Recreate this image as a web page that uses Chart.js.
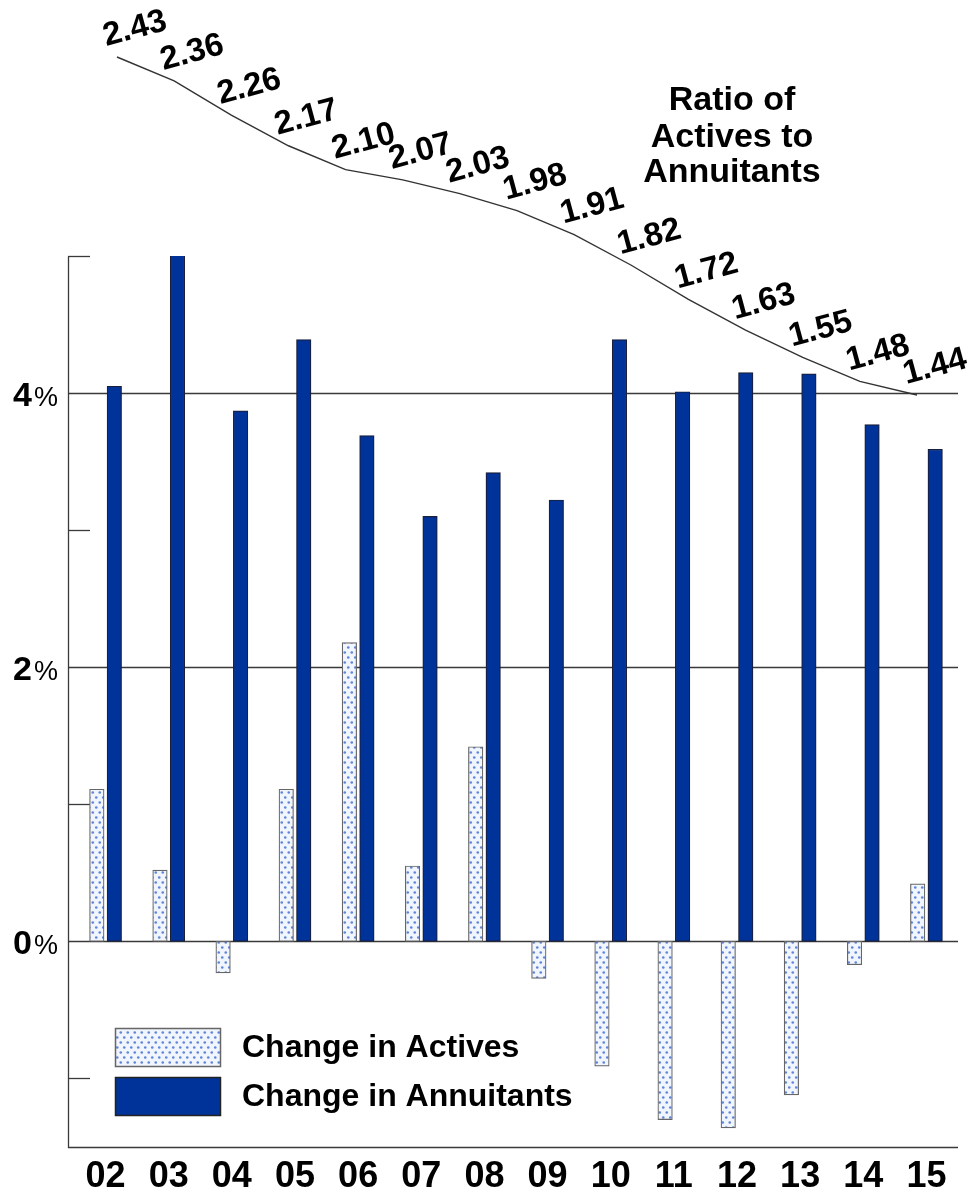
<!DOCTYPE html>
<html>
<head>
<meta charset="utf-8">
<title>Actives and Annuitants</title>
<script src="https://cdn.jsdelivr.net/npm/chart.js@4/dist/chart.umd.min.js"></script>
<style>
  html, body { margin: 0; padding: 0; background: #ffffff; }
  #wrap { width: 967px; height: 1192px; position: relative; }
</style>
</head>
<body>
<div id="wrap"><canvas id="chart" width="967" height="1192"></canvas></div>
<script>
// Fiscal years shown on the category axis
const years = ['02', '03', '04', '05', '06', '07', '08', '09', '10', '11', '12', '13', '14', '15'];

// Annual percentage change in active members
const activesChange = [1.11, 0.52, -0.23, 1.11, 2.18, 0.55, 1.42, -0.27, -0.91, -1.30, -1.36, -1.12, -0.17, 0.42];

// Annual percentage change in annuitants
const annuitantsChange = [4.05, 5.03, 3.87, 4.39, 3.69, 3.10, 3.42, 3.22, 4.39, 4.01, 4.15, 4.14, 3.77, 3.59];

// Ratio of actives to annuitants (one more point than the bar years)
const ratioValues = [2.43, 2.36, 2.26, 2.17, 2.10, 2.07, 2.03, 1.98, 1.91, 1.82, 1.72, 1.63, 1.55, 1.48, 1.44];

// Percent axis: all tick marks, and the ones that carry a label and a full grid line
const percentTicks = [-1, 0, 1, 2, 3, 4, 5];
const labelledTicks = [0, 2, 4];

const legendLabels = ['Change in Actives', 'Change in Annuitants'];
const ratioTitle = ['Ratio of', 'Actives to', 'Annuitants'];

const FONT = '"Liberation Sans", Arial, Helvetica, sans-serif';
const NAVY = '#003399';

// Dotted fill for the actives bars
function makeDotPattern() {
  const c = document.createElement('canvas');
  c.width = 7; c.height = 10;
  const g = c.getContext('2d');
  g.fillStyle = '#f1f5fd';
  g.fillRect(0, 0, 7, 10);
  g.fillStyle = '#5f84d8';
  [[1.75, 2.5], [5.25, 7.5]].forEach(([x, y]) => {
    g.beginPath();
    g.arc(x, y, 1.3, 0, Math.PI * 2);
    g.fill();
  });
  return g.createPattern(c, 'repeat');
}
const ctxMain = document.getElementById('chart').getContext('2d');
const dotPattern = makeDotPattern();

// Axis frame, grid lines, tick labels, legend and annotations
const decorations = {
  id: 'decorations',
  beforeDatasetsDraw(chart) {
    const { ctx, chartArea, scales } = chart;
    const y = scales.y;
    const axisX = chartArea.left - 6;
    ctx.save();
    ctx.strokeStyle = '#3a3a3a';
    ctx.lineWidth = 1.3;
    percentTicks.forEach(v => {
      const py = Math.round(y.getPixelForValue(v)) + 0.5;
      const full = labelledTicks.includes(v);
      ctx.beginPath();
      ctx.moveTo(axisX, py);
      ctx.lineTo(full ? chartArea.right : axisX + 22, py);
      ctx.stroke();
    });
    // left axis and bottom frame line
    const topY = Math.round(y.getPixelForValue(5)) + 0.5;
    const botY = Math.round(chartArea.bottom) + 0.5;
    ctx.beginPath();
    ctx.moveTo(axisX + 0.5, topY);
    ctx.lineTo(axisX + 0.5, botY);
    ctx.lineTo(chartArea.right, botY);
    ctx.stroke();
    ctx.restore();
  },
  afterDraw(chart) {
    const { ctx, chartArea, scales } = chart;
    const y = scales.y, x = scales.x;
    ctx.save();
    ctx.fillStyle = '#000';
    ctx.textBaseline = 'alphabetic';

    // percent labels: bold number, lighter percent sign
    labelledTicks.forEach(v => {
      const py = y.getPixelForValue(v) + 12.5;
      ctx.font = '27px ' + FONT;
      ctx.textAlign = 'right';
      const pctW = ctx.measureText('%').width;
      ctx.fillText('%', 58, py);
      ctx.font = 'bold 34px ' + FONT;
      ctx.fillText(String(v), 58 - pctW - 2, py);
    });

    // year labels
    ctx.font = 'bold 36px ' + FONT;
    ctx.textAlign = 'center';
    years.forEach((lbl, i) => {
      ctx.fillText(lbl, x.getPixelForValue(i), chartArea.bottom + 40);
    });

    // ratio values along the line
    const meta = chart.getDatasetMeta(2);
    ctx.font = 'bold 33px ' + FONT;
    meta.data.forEach((pt, i) => {
      ctx.save();
      ctx.translate(pt.x + 18, pt.y - 28);
      ctx.rotate(-15 * Math.PI / 180);
      ctx.textAlign = 'center';
      ctx.textBaseline = 'middle';
      ctx.fillText(ratioValues[i].toFixed(2), 0, 0);
      ctx.restore();
    });

    // ratio title
    ctx.font = 'bold 34px ' + FONT;
    ctx.textAlign = 'center';
    const titleBase = [110, 147, 182];
    ratioTitle.forEach((t, i) => ctx.fillText(t, 732, titleBase[i]));

    // legend
    const boxes = [
      { y: 1028, fill: dotPattern, stroke: '#666' },
      { y: 1077, fill: NAVY, stroke: '#222' }
    ];
    boxes.forEach((b, i) => {
      ctx.fillStyle = b.fill;
      ctx.fillRect(115, b.y, 105, 38);
      ctx.strokeStyle = b.stroke;
      ctx.lineWidth = 1.5;
      ctx.strokeRect(115.5, b.y + 0.5, 105, 38);
      ctx.fillStyle = '#000';
      ctx.font = 'bold 32px ' + FONT;
      ctx.textAlign = 'left';
      ctx.fillText(legendLabels[i], 242, b.y + 29);
    });
    ctx.restore();
  }
};

// Each bar series sits on its own index axis, shifted a little left or right of the year centre
const barShift = 0.1386;
const hiddenLinear = (min, max) => ({
  type: 'linear', display: false, bounds: 'data', offset: false,
  grid: { offset: false }, min, max
});

new Chart(ctxMain, {
  type: 'bar',
  data: {
    labels: years,
    datasets: [
      {
        label: legendLabels[0],
        data: activesChange.map((v, i) => ({ x: i, y: v })),
        backgroundColor: dotPattern,
        borderColor: '#666',
        borderWidth: 1.2,
        borderSkipped: false,
        grouped: false,
        barThickness: 14.5,
        xAxisID: 'xa',
        yAxisID: 'y'
      },
      {
        label: legendLabels[1],
        data: annuitantsChange.map((v, i) => ({ x: i, y: v })),
        backgroundColor: NAVY,
        borderColor: '#1a1f3a',
        borderWidth: 1.2,
        borderSkipped: false,
        grouped: false,
        barThickness: 14.5,
        xAxisID: 'xb',
        yAxisID: 'y'
      },
      {
        type: 'line',
        label: 'Ratio of Actives to Annuitants',
        data: ratioValues.map((v, i) => ({ x: i, y: v })),
        borderColor: '#333',
        borderWidth: 1.4,
        pointRadius: 0,
        tension: 0,
        fill: false,
        clip: false,
        xAxisID: 'x2',
        yAxisID: 'y2'
      }
    ]
  },
  options: {
    responsive: false,
    animation: false,
    layout: { padding: { left: 74, right: 9, top: 256, bottom: 45 } },
    plugins: {
      legend: { display: false },
      tooltip: { enabled: false },
      title: { display: false }
    },
    scales: {
      x: { type: 'category', display: false, offset: true },
      xa: hiddenLinear(-0.5 + barShift, 13.5 + barShift),
      xb: hiddenLinear(-0.5 - barShift, 13.5 - barShift),
      x2: hiddenLinear(-0.7525, 14.7175),
      y: hiddenLinear(-1.5, 5),
      y2: hiddenLinear(-0.7626, 1.8471)
    }
  },
  plugins: [decorations]
});
</script>
</body>
</html>
